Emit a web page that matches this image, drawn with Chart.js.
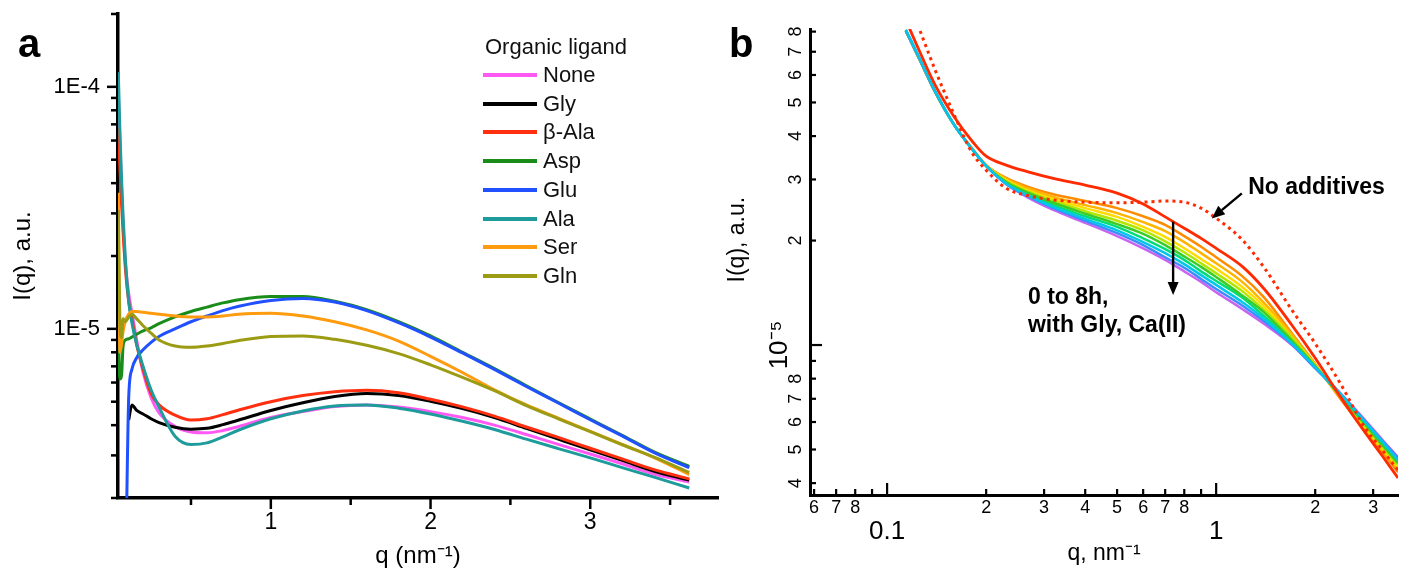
<!DOCTYPE html>
<html><head><meta charset="utf-8">
<script src="https://cdn.jsdelivr.net/npm/chart.js@4.4.1/dist/chart.umd.min.js"></script>
<style>
html,body{margin:0;padding:0;background:#fff;}
#wrap{position:relative;width:1402px;height:573px;overflow:hidden;font-family:"Liberation Sans",Arial,sans-serif;color:#000;}
canvas{position:absolute;top:0;}
#cA{left:0;} #cB{left:700px;}
.plab{position:absolute;font-weight:bold;font-size:40px;line-height:40px;}
.leg{position:absolute;font-size:22px;line-height:24px;white-space:nowrap;color:#111;}
.legline{position:absolute;height:4px;width:54px;}
</style></head><body>
<div id="wrap">
<canvas id="cA" width="740" height="573"></canvas>
<canvas id="cB" width="702" height="573"></canvas>
<div class="plab" style="left:18px;top:23px">a</div>
<div class="plab" style="left:729px;top:23px">b</div>
<div id="legend"></div>
</div>
<script>
// ---------------- Panel a data ----------------
const ligandNames = ['None', 'Gly', 'β-Ala', 'Asp', 'Glu', 'Ala', 'Ser', 'Gln'];
const ligandColors = ['#ff59f4', '#000000', '#ff2f0f', '#1a8c1a', '#2050ff', '#1e9b9b', '#ff9b0f', '#9b9b14'];
const qA = [0.045, 0.055, 0.065, 0.075, 0.09, 0.11, 0.13, 0.16, 0.2, 0.25, 0.3, 0.4, 0.5, 0.6, 0.7, 0.8, 1.0, 1.2, 1.4, 1.6, 1.8, 2.0, 2.2, 2.4, 2.6, 2.8, 3.0, 3.2, 3.4, 3.62];
const qGly = [0.11, 0.13, 0.16, 0.2, 0.25, 0.3, 0.4, 0.5, 0.6, 0.7, 0.8, 1.0, 1.2, 1.4, 1.6, 1.8, 2.0, 2.2, 2.4, 2.6, 2.8, 3.0, 3.2, 3.4, 3.62];
const qGlu = [0.095, 0.11, 0.13, 0.16, 0.2, 0.25, 0.3, 0.4, 0.5, 0.6, 0.7, 0.8, 1.0, 1.2, 1.4, 1.6, 1.8, 2.0, 2.2, 2.4, 2.6, 2.8, 3.0, 3.2, 3.4, 3.62];
const iNone = [9.4e-5, 6.0e-5, 3.9e-5, 2.7e-5, 1.85e-5, 1.4e-5, 1.17e-5, 9.0e-6, 6.6e-6, 5.2e-6, 4.5e-6, 3.95e-6, 3.75e-6, 3.72e-6, 3.8e-6, 3.95e-6, 4.3e-6, 4.55e-6, 4.78e-6, 4.85e-6, 4.75e-6, 4.55e-6, 4.3e-6, 4.0e-6, 3.66e-6, 3.33e-6, 3.04e-6, 2.77e-6, 2.51e-6, 2.33e-6];
const iGly = [4.2e-6, 4.85e-6, 4.6e-6, 4.45e-6, 4.25e-6, 4.1e-6, 3.92e-6, 3.85e-6, 3.88e-6, 4.02e-6, 4.2e-6, 4.6e-6, 4.95e-6, 5.25e-6, 5.4e-6, 5.3e-6, 5.02e-6, 4.68e-6, 4.3e-6, 3.88e-6, 3.5e-6, 3.16e-6, 2.86e-6, 2.58e-6, 2.37e-6];
const iBAla = [6.8e-5, 4.6e-5, 3.3e-5, 2.5e-5, 1.75e-5, 1.3e-5, 1.1e-5, 8.6e-6, 6.8e-6, 5.4e-6, 4.85e-6, 4.4e-6, 4.2e-6, 4.25e-6, 4.42e-6, 4.62e-6, 5.0e-6, 5.3e-6, 5.5e-6, 5.58e-6, 5.45e-6, 5.12e-6, 4.76e-6, 4.36e-6, 3.93e-6, 3.56e-6, 3.21e-6, 2.9e-6, 2.62e-6, 2.4e-6];
const iAsp = [1.0e-5, 6.2e-6, 6.4e-6, 8.5e-6, 9.0e-6, 9.1e-6, 9.25e-6, 9.5e-6, 9.8e-6, 1.01e-5, 1.05e-5, 1.12e-5, 1.18e-5, 1.23e-5, 1.28e-5, 1.32e-5, 1.36e-5, 1.36e-5, 1.3e-5, 1.2e-5, 1.07e-5, 9.35e-6, 8.0e-6, 6.85e-6, 5.82e-6, 4.96e-6, 4.24e-6, 3.63e-6, 3.1e-6, 2.7e-6];
const iGlu = [1.5e-6, 5.2e-6, 6.8e-6, 7.6e-6, 8.2e-6, 8.8e-6, 9.3e-6, 1.0e-5, 1.07e-5, 1.13e-5, 1.19e-5, 1.24e-5, 1.31e-5, 1.335e-5, 1.29e-5, 1.19e-5, 1.06e-5, 9.25e-6, 7.95e-6, 6.8e-6, 5.78e-6, 4.94e-6, 4.21e-6, 3.61e-6, 3.08e-6, 2.67e-6];
const iAla = [1.15e-4, 6.5e-5, 4.2e-5, 2.9e-5, 1.9e-5, 1.3e-5, 1.06e-5, 8.6e-6, 7.0e-6, 5.6e-6, 4.75e-6, 3.6e-6, 3.33e-6, 3.38e-6, 3.58e-6, 3.82e-6, 4.25e-6, 4.58e-6, 4.8e-6, 4.85e-6, 4.7e-6, 4.45e-6, 4.15e-6, 3.84e-6, 3.5e-6, 3.2e-6, 2.93e-6, 2.67e-6, 2.44e-6, 2.2e-6];
const iSer = [3.65e-5, 8.0e-6, 8.6e-6, 9.8e-6, 1.08e-5, 1.15e-5, 1.18e-5, 1.18e-5, 1.17e-5, 1.16e-5, 1.15e-5, 1.13e-5, 1.12e-5, 1.12e-5, 1.13e-5, 1.15e-5, 1.16e-5, 1.13e-5, 1.07e-5, 9.9e-6, 8.9e-6, 7.7e-6, 6.6e-6, 5.6e-6, 4.85e-6, 4.28e-6, 3.77e-6, 3.33e-6, 2.94e-6, 2.5e-6];
const iGln = [3.1e-5, 1.05e-5, 9.2e-6, 1.1e-5, 1.07e-5, 1.12e-5, 1.15e-5, 1.1e-5, 1.03e-5, 9.6e-6, 9.0e-6, 8.5e-6, 8.4e-6, 8.5e-6, 8.7e-6, 8.95e-6, 9.3e-6, 9.35e-6, 9.05e-6, 8.55e-6, 7.9e-6, 7.1e-6, 6.3e-6, 5.55e-6, 4.82e-6, 4.25e-6, 3.76e-6, 3.32e-6, 2.95e-6, 2.55e-6];
const ligandQ = [qA, qGly, qA, qA, qGlu, qA, qA, qA];
const ligandI = [iNone, iGly, iBAla, iAsp, iGlu, iAla, iSer, iGln];

// Panel a axes
const xLabelTicksA = [1, 2, 3];
const xLabelsA = ['1', '2', '3'];
const xMajorA = [1, 2, 3];
const xMinorA = [0.5, 1.5, 2.5, 3.5];
const yLabelTicksA = [1e-5, 1e-4];
const yLabelsA = ['1E-5', '1E-4'];
const yMajorA = [1e-5, 1e-4];
const yMinorA = [2e-6, 3e-6, 4e-6, 5e-6, 6e-6, 7e-6, 8e-6, 9e-6, 2e-5, 3e-5, 4e-5, 5e-5, 6e-5, 7e-5, 8e-5, 9e-5, 2e-4];

// ---------------- Panel b data (I in units of 1e-5) ----------------
const timeColors = ['#ff2a00', '#ff8c00', '#ffb400', '#ffdc00', '#b4e600', '#3ccc28', '#00dc78', '#00c8e6', '#3c8cff', '#c864f0'];
const qB = [0.114, 0.125, 0.14, 0.16, 0.18, 0.2, 0.23, 0.27, 0.32, 0.4, 0.5, 0.6, 0.7, 0.8, 0.9, 1.0, 1.2, 1.4, 1.7, 2.0, 2.4, 2.8, 3.2, 3.57];
const t0 = [8.64, 7.08, 5.61, 4.54, 3.90, 3.50, 3.30, 3.15, 3.02, 2.89, 2.74, 2.55, 2.34, 2.17, 2.03, 1.90, 1.685, 1.45, 1.14, 0.917, 0.703, 0.569, 0.479, 0.414];
const t1 = [8.03, 6.71, 5.36, 4.30, 3.72, 3.30, 3.03, 2.85, 2.72, 2.60, 2.48, 2.35, 2.22, 2.06, 1.92, 1.79, 1.58, 1.37, 1.08, 0.882, 0.694, 0.577, 0.492, 0.430];
const t2 = [8.03, 6.71, 5.36, 4.30, 3.71, 3.29, 3.01, 2.82, 2.67, 2.53, 2.40, 2.26, 2.13, 1.98, 1.84, 1.72, 1.52, 1.32, 1.07, 0.876, 0.699, 0.584, 0.498, 0.439];
const t3 = [8.03, 6.71, 5.36, 4.30, 3.71, 3.29, 2.99, 2.78, 2.63, 2.48, 2.34, 2.19, 2.05, 1.90, 1.77, 1.66, 1.47, 1.29, 1.05, 0.876, 0.703, 0.588, 0.505, 0.445];
const t4 = [8.03, 6.71, 5.36, 4.30, 3.70, 3.28, 2.97, 2.76, 2.60, 2.43, 2.28, 2.14, 1.99, 1.85, 1.72, 1.61, 1.43, 1.26, 1.05, 0.870, 0.708, 0.592, 0.508, 0.451];
const t5 = [8.03, 6.71, 5.36, 4.30, 3.70, 3.28, 2.95, 2.74, 2.57, 2.39, 2.23, 2.09, 1.94, 1.80, 1.68, 1.57, 1.39, 1.24, 1.03, 0.870, 0.708, 0.600, 0.515, 0.457];
const t6 = [8.03, 6.71, 5.36, 4.30, 3.70, 3.28, 2.93, 2.72, 2.53, 2.35, 2.19, 2.03, 1.89, 1.76, 1.63, 1.53, 1.37, 1.21, 1.02, 0.864, 0.713, 0.604, 0.519, 0.460];
const t7 = [8.10, 6.75, 5.38, 4.31, 3.70, 3.28, 2.92, 2.69, 2.50, 2.31, 2.14, 1.98, 1.84, 1.71, 1.59, 1.49, 1.33, 1.19, 1.01, 0.864, 0.718, 0.608, 0.526, 0.466];
const t8 = [8.10, 6.75, 5.38, 4.31, 3.70, 3.28, 2.91, 2.67, 2.48, 2.28, 2.10, 1.94, 1.79, 1.67, 1.55, 1.45, 1.30, 1.17, 1.005, 0.858, 0.720, 0.612, 0.530, 0.472];
const t9 = [8.03, 6.71, 5.36, 4.30, 3.70, 3.28, 2.91, 2.65, 2.45, 2.25, 2.06, 1.90, 1.76, 1.63, 1.52, 1.42, 1.27, 1.15, 1.00, 0.858, 0.722, 0.616, 0.533, 0.475];
const timeSeries = [t0, t1, t2, t3, t4, t5, t6, t7, t8, t9];
const timeOrder = [1, 9, 8, 7, 6, 5, 5, 2, 3, 4];
const qNoAdd = [0.126, 0.14, 0.16, 0.18, 0.2, 0.23, 0.27, 0.32, 0.4, 0.5, 0.6, 0.7, 0.8, 0.9, 1.0, 1.2, 1.4, 1.7, 2.0, 2.4, 2.8, 3.2, 3.57];
const iNoAdd = [8.03, 6.20, 4.60, 3.62, 3.19, 2.83, 2.69, 2.62, 2.58, 2.57, 2.58, 2.60, 2.58, 2.48, 2.32, 2.01, 1.67, 1.26, 1.01, 0.767, 0.588, 0.498, 0.436];

// Panel b axes
const xLabelTicksB = [0.06, 0.07, 0.08, 0.1, 0.2, 0.3, 0.4, 0.5, 0.6, 0.7, 0.8, 1, 2, 3];
const xLabelsB = ['6', '7', '8', '0.1', '2', '3', '4', '5', '6', '7', '8', '1', '2', '3'];
const xMajorB = [0.1, 1];
const xMinorB = [0.06, 0.07, 0.08, 0.09, 0.2, 0.3, 0.4, 0.5, 0.6, 0.7, 0.8, 0.9, 2, 3];
const yLabelTicksB = [0.4, 0.5, 0.6, 0.7, 0.8, 1, 2, 3, 4, 5, 6, 7, 8];
const yLabelsB = ['4', '5', '6', '7', '8', '10⁻⁵', '2', '3', '4', '5', '6', '7', '8'];
const yMajorB = [1];
const yMinorB = [0.4, 0.5, 0.6, 0.7, 0.8, 0.9, 2, 3, 4, 5, 6, 7, 8];

// ---------------- helpers ----------------
const FONT = "'Liberation Sans', Arial, Helvetica, sans-serif";
Chart.defaults.font.family = FONT;
Chart.defaults.color = '#000';

function fixSize(w, h) {
  return (s) => {
    if (w != null) s.width = w;
    if (h != null) s.height = h;
    s.paddingTop = 0; s.paddingBottom = 0; s.paddingLeft = 0; s.paddingRight = 0;
  };
}
function setTicks(values) { return (s) => { s.ticks = values.map(v => ({ value: v })); }; }

const tickMarkPlugin = {
  id: 'tickMarks',
  afterDraw(chart, args, opts) {
    const ctx = chart.ctx, ca = chart.chartArea;
    ctx.save();
    ctx.strokeStyle = '#000';
    ctx.lineCap = 'butt';
    for (const m of (opts.sets || [])) {
      const s = chart.scales[m.scale];
      ctx.lineWidth = m.width;
      for (const v of m.values) {
        const p = s.getPixelForValue(v);
        ctx.beginPath();
        if (s.isHorizontal()) { ctx.moveTo(p, ca.bottom); ctx.lineTo(p, ca.bottom + m.len * m.dir); }
        else { ctx.moveTo(ca.left, p); ctx.lineTo(ca.left + m.len * m.dir, p); }
        ctx.stroke();
      }
    }
    ctx.restore();
  }
};

const annotatePlugin = {
  id: 'annotate',
  afterDatasetsDraw(chart, args, opts) {
    if (!opts.arrows) return;
    const ctx = chart.ctx, x = chart.scales.x, y = chart.scales.y;
    ctx.save();
    ctx.strokeStyle = '#000'; ctx.fillStyle = '#000';
    ctx.lineWidth = opts.lineWidth;
    for (const a of opts.arrows) {
      const x1 = x.getPixelForValue(a.from[0]), y1 = y.getPixelForValue(a.from[1]);
      const x2 = x.getPixelForValue(a.to[0]), y2 = y.getPixelForValue(a.to[1]);
      const ang = Math.atan2(y2 - y1, x2 - x1);
      const hl = opts.headLength, hw = opts.headWidth;
      const bx = x2 - hl * Math.cos(ang), by = y2 - hl * Math.sin(ang);
      ctx.beginPath(); ctx.moveTo(x1, y1); ctx.lineTo(bx, by); ctx.stroke();
      ctx.beginPath();
      ctx.moveTo(x2, y2);
      ctx.lineTo(bx + hw * Math.sin(ang), by - hw * Math.cos(ang));
      ctx.lineTo(bx - hw * Math.sin(ang), by + hw * Math.cos(ang));
      ctx.closePath(); ctx.fill();
    }
    ctx.font = opts.font; ctx.textAlign = 'left'; ctx.textBaseline = 'middle';
    for (const t of opts.texts) ctx.fillText(t.text, x.getPixelForValue(t.at[0]), y.getPixelForValue(t.at[1]));
    ctx.restore();
  }
};

const axisBorder = { display: true, color: '#000', width: 3.5 };
const noGrid = { display: false, drawTicks: false };

// ---------------- Chart a ----------------
new Chart(document.getElementById('cA'), {
  type: 'line',
  data: {
    datasets: ligandNames.map((name, i) => ({
      label: name,
      data: ligandQ[i].map((q, j) => ({ x: q, y: ligandI[i][j] })),
      borderColor: ligandColors[i],
      borderWidth: 3,
      pointRadius: 0,
      fill: false,
      cubicInterpolationMode: 'monotone',
      order: 10 - i
    }))
  },
  options: {
    responsive: false, animation: false, devicePixelRatio: 1,
    layout: { padding: { left: 0, top: 14, right: 22, bottom: 0 } },
    plugins: {
      legend: { display: false }, tooltip: { enabled: false },
      tickMarks: { sets: [
        { scale: 'x', values: xMajorA, len: 11, dir: 1, width: 2.5 },
        { scale: 'x', values: xMinorA, len: 7, dir: 1, width: 2.5 },
        { scale: 'y', values: yMajorA, len: 11, dir: -1, width: 2.5 },
        { scale: 'y', values: yMinorA, len: 7, dir: -1, width: 2.5 }
      ] }
    },
    scales: {
      x: {
        type: 'linear', min: 0.043, max: 3.8,
        afterBuildTicks: setTicks(xLabelTicksA), afterFit: fixSize(null, 75),
        grid: noGrid, border: axisBorder,
        ticks: { autoSkip: false, maxRotation: 0, minRotation: 0, padding: 11, font: { size: 23 },
                 callback: (v, i) => xLabelsA[i] },
        title: { display: true, text: 'q (nm⁻¹)', font: { size: 24 }, padding: { top: 0, bottom: 2 } }
      },
      y: {
        type: 'logarithmic', min: 2e-6, max: 2e-4,
        afterBuildTicks: setTicks(yLabelTicksA), afterFit: fixSize(118, null),
        grid: noGrid, border: axisBorder,
        ticks: { autoSkip: false, padding: 18, font: { size: 22 }, callback: (v, i) => yLabelsA[i] },
        title: { display: true, text: 'I(q), a.u.', font: { size: 24 }, padding: { top: 9, bottom: 0 } }
      }
    }
  },
  plugins: [tickMarkPlugin]
});

// ---------------- Chart b ----------------
const dsB = [{
  label: 'No additives',
  data: qNoAdd.map((q, j) => ({ x: q, y: iNoAdd[j] })),
  borderColor: '#ff2a00', borderWidth: 3, borderDash: [3, 4], pointRadius: 0, fill: false,
  cubicInterpolationMode: 'monotone', order: 0
}].concat(timeSeries.map((s, i) => ({
  label: 't' + i,
  data: qB.map((q, j) => ({ x: q, y: s[j] })),
  borderColor: timeColors[i], borderWidth: i === 0 ? 2.8 : 2.5, pointRadius: 0, fill: false,
  cubicInterpolationMode: 'monotone', order: timeOrder[i]
})));

const yMajorIdxB = yLabelTicksB.indexOf(1);
new Chart(document.getElementById('cB'), {
  type: 'line',
  data: { datasets: dsB },
  options: {
    responsive: false, animation: false, devicePixelRatio: 1,
    layout: { padding: { left: 0, top: 29, right: 4, bottom: 0 } },
    plugins: {
      legend: { display: false }, tooltip: { enabled: false },
      tickMarks: { sets: [
        { scale: 'x', values: xMajorB, len: -12, dir: 1, width: 2.2 },
        { scale: 'x', values: xMinorB, len: -6, dir: 1, width: 2.2 },
        { scale: 'y', values: yMajorB, len: 12, dir: 1, width: 2.2 },
        { scale: 'y', values: yMinorB, len: 6, dir: 1, width: 2.2 }
      ] },
      annotate: {
        lineWidth: 2.4, headLength: 13, headWidth: 5.5,
        font: "bold 23px " + FONT,
        arrows: [ { from: [0.740, 2.266], to: [0.740, 1.394] }, { from: [1.197, 2.736], to: [0.970, 2.317] } ],
        texts: [ { text: 'No additives', at: [1.251, 2.835] }, { text: '0 to 8h,', at: [0.268, 1.366] }, { text: 'with Gly, Ca(II)', at: [0.268, 1.14] } ]
      }
    },
    scales: {
      x: {
        type: 'logarithmic', min: 0.0583, max: 3.57,
        afterBuildTicks: setTicks(xLabelTicksB), afterFit: fixSize(null, 78),
        grid: noGrid, border: { display: true, color: '#000', width: 3 },
        ticks: {
          autoSkip: false, maxRotation: 0, minRotation: 0, padding: 2,
          font: (c) => (c.index !== undefined && xMajorB.includes(xLabelTicksB[c.index])) ? { size: 26, lineHeight: 0.9 } : { size: 18, lineHeight: 1.2 },
          callback: (v, i) => xMajorB.includes(xLabelTicksB[i]) ? ['', xLabelsB[i]] : xLabelsB[i]
        },
        title: { display: true, text: 'q, nm⁻¹', font: { size: 23 }, padding: { top: 0, bottom: 6 } }
      },
      y: {
        type: 'logarithmic', min: 0.3697, max: 8.14,
        afterBuildTicks: setTicks(yLabelTicksB), afterFit: fixSize(110, null),
        grid: noGrid, border: { display: true, color: '#000', width: 3 },
        ticks: {
          autoSkip: false, minRotation: 90, maxRotation: 90, crossAlign: 'center', padding: 6,
          font: (c) => (c.index === yMajorIdxB) ? { size: 26, lineHeight: 1.2 } : { size: 18, lineHeight: 1.78 },
          callback: (v, i) => i === yMajorIdxB ? yLabelsB[i] : ['', yLabelsB[i]]
        },
        title: { display: true, text: '       I(q), a.u.', font: { size: 23 }, padding: { top: 24, bottom: 0 } }
      }
    }
  },
  plugins: [tickMarkPlugin, annotatePlugin]
});

// ---------------- Legend (panel a) ----------------
const legend = document.getElementById('legend');
const lt = document.createElement('div');
lt.className = 'leg'; lt.style.left = '485px'; lt.style.top = (47 - 12) + 'px'; lt.textContent = 'Organic ligand';
legend.appendChild(lt);
ligandNames.forEach((n, i) => {
  const cy = 75 + 28.7 * i;
  const ln = document.createElement('div');
  ln.className = 'legline'; ln.style.left = '483px'; ln.style.top = (cy - 2) + 'px'; ln.style.background = ligandColors[i];
  legend.appendChild(ln);
  const tx = document.createElement('div');
  tx.className = 'leg'; tx.style.left = '543px'; tx.style.top = (cy - 12) + 'px'; tx.textContent = n;
  legend.appendChild(tx);
});
</script>
</body></html>
